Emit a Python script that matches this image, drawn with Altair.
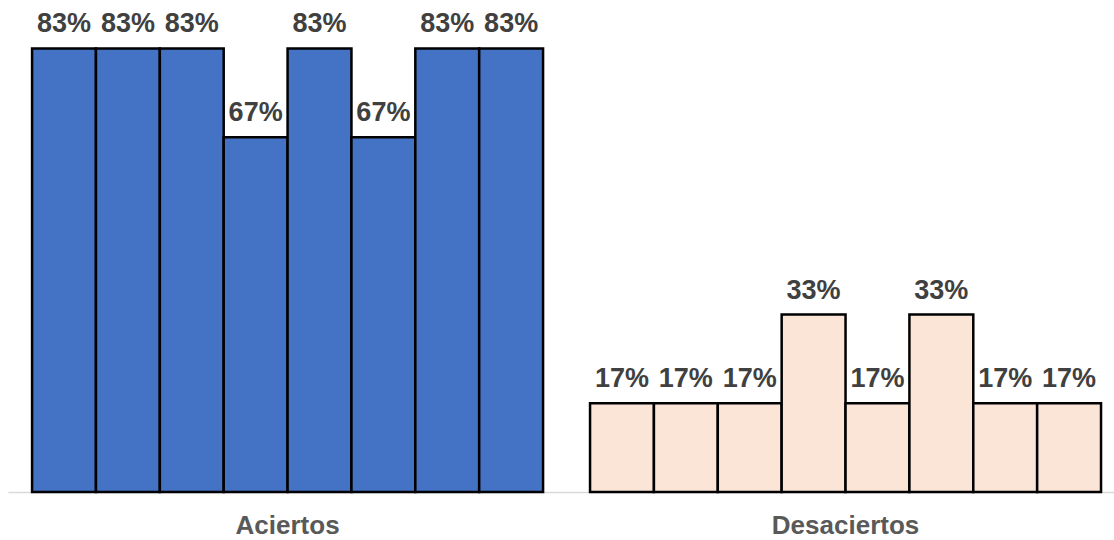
import altair as alt
import pandas as pd

categories = ["Aciertos", "Desaciertos"]
series = ["P1", "P2", "P3", "P4", "P5", "P6", "P7", "P8"]
aciertos = [0.8333, 0.8333, 0.8333, 0.6667, 0.8333, 0.6667, 0.8333, 0.8333]
desaciertos = [0.1667, 0.1667, 0.1667, 0.3333, 0.1667, 0.3333, 0.1667, 0.1667]
colors = ["#4472C4", "#FBE5D6"]

rows = []
for s, a, d in zip(series, aciertos, desaciertos):
    rows.append({"cat": "Aciertos", "serie": s, "val": a})
    rows.append({"cat": "Desaciertos", "serie": s, "val": d})
df = pd.DataFrame(rows)

x = alt.X("cat:N", sort=categories, title=None,
          scale=alt.Scale(paddingInner=0.0842, paddingOuter=0.0332, align=0.65),
          axis=alt.Axis(labelAngle=0, ticks=False, domainColor="#D9D9D9", domainWidth=1.5,
                        labelFont="Liberation Sans", labelFontSize=26, labelFontWeight="bold",
                        labelColor="#595959", labelPadding=41, labelBaseline="alphabetic"))
y = alt.Y("val:Q", title=None, scale=alt.Scale(domain=[0, 0.9], nice=False),
          axis=None)
xo = alt.XOffset("serie:N", sort=series, scale=alt.Scale(paddingInner=0, paddingOuter=0))

base = alt.Chart(df).encode(x=x, xOffset=xo, y=y)

bars = base.mark_bar(stroke="black", strokeWidth=2.5).encode(
    color=alt.Color("cat:N", scale=alt.Scale(domain=categories, range=colors), legend=None)
)
labels = base.mark_text(baseline="alphabetic", dy=-16, font="Liberation Sans",
                        fontSize=27, fontWeight="bold", color="#404040").encode(
    text=alt.Text("val:Q", format=".0%")
)

chart = (bars + labels).properties(
    width=1106, height=479,
    padding={"left": 8, "top": 13, "right": 0, "bottom": 48},
    autosize=alt.AutoSizeParams(type="none"),
).configure_view(stroke=None)

chart.save("out.html", embed_options={"renderer": "svg", "actions": False})
